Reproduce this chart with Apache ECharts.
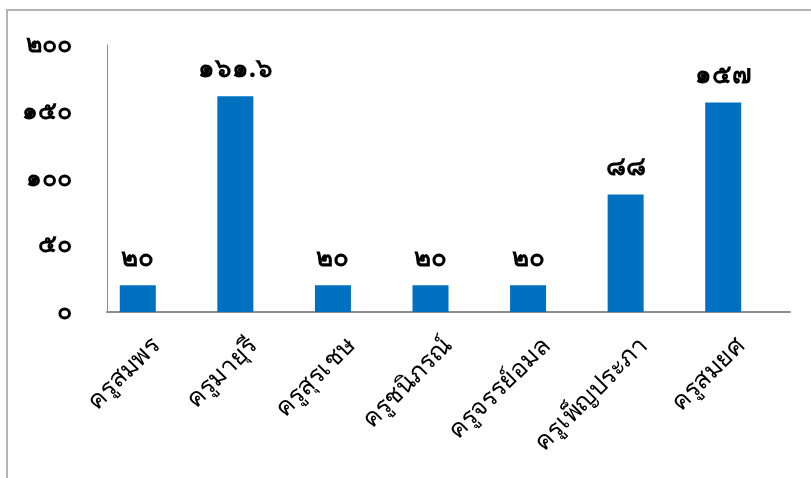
<!DOCTYPE html>
<html>
<head>
<meta charset="utf-8">
<script src="https://cdn.jsdelivr.net/npm/echarts@6/dist/echarts.min.js"></script>
<style>
  html, body { margin: 0; padding: 0; background: #fff; }
  #chart { width: 811px; height: 478px; }
</style>
</head>
<body>
<div id="chart"></div>
<script>
// Teachers and their scores
const teachers = ['ครูสมพร', 'ครูมายุรี', 'ครูสุรเชษ', 'ครูชนิภรณ์', 'ครูจรรย์อมล', 'ครูเพ็ญประภา', 'ครูสมยศ'];
const scores = [20, 161.6, 20, 20, 20, 88, 157];
const yTicks = [0, 50, 100, 150, 200];

const thaiDigits = ['๐', '๑', '๒', '๓', '๔', '๕', '๖', '๗', '๘', '๙'];
function toThai(v) {
  return String(v).replace(/[0-9]/g, d => thaiDigits[+d]);
}

const FONT = 'Tahoma, "Noto Sans", "DejaVu Sans", sans-serif';

const chart = echarts.init(document.getElementById('chart'));
chart.setOption({
  animation: false,
  backgroundColor: '#fff',
  grid: { left: 107, right: 21, top: 45, bottom: 166 },
  graphic: [{
    type: 'rect',
    shape: { x: 7, y: 10, width: 900, height: 600 },
    style: { fill: 'none', stroke: '#b4b4b4', lineWidth: 2 },
    silent: true
  }],
  xAxis: {
    type: 'category',
    data: teachers,
    axisLine: { lineStyle: { color: '#8c8c8c', width: 2 } },
    axisTick: { show: false },
    axisLabel: {
      rotate: 45,
      interval: 0,
      margin: 30,
      fontSize: 25,
      color: '#000',
      fontFamily: FONT
    }
  },
  yAxis: {
    type: 'value',
    min: yTicks[0],
    max: yTicks[yTicks.length - 1],
    interval: yTicks[1] - yTicks[0],
    splitLine: { show: false },
    axisLine: { show: true, lineStyle: { color: '#8c8c8c', width: 1 } },
    axisTick: { show: false },
    axisLabel: {
      margin: 35,
      fontSize: 25,
      fontWeight: 'bold',
      color: '#000',
      fontFamily: FONT,
      formatter: v => toThai(v)
    }
  },
  series: [
    {
      type: 'bar',
      data: scores,
      barWidth: 36,
      barGap: '0%',
      itemStyle: { color: '#0070C0' },
      label: {
        show: true,
        position: 'top',
        distance: 14,
        fontSize: 26,
        fontWeight: 'bold',
        color: '#000',
        fontFamily: FONT,
        formatter: p => toThai(p.value)
      }
    },
    {
      type: 'bar',
      data: teachers.map(() => null),
      barWidth: 36,
      itemStyle: { color: 'transparent' }
    }
  ]
});
</script>
</body>
</html>
